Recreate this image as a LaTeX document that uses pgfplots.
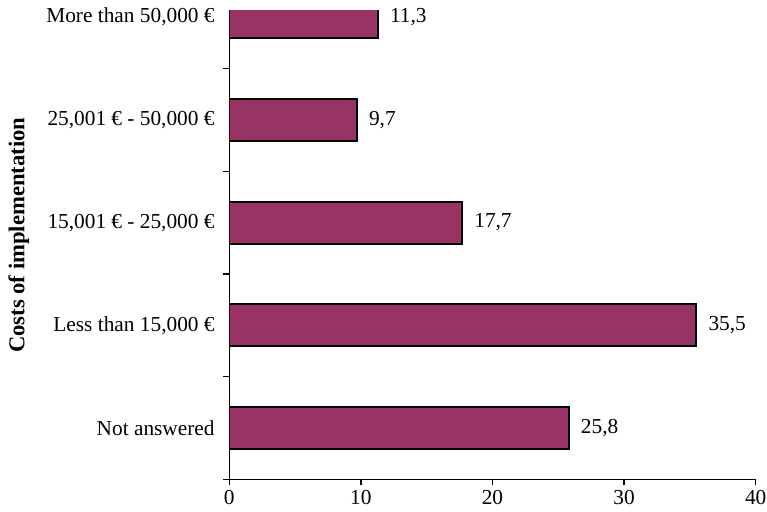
\documentclass[border=0pt]{standalone}
\usepackage{fontspec}
\setmainfont{Liberation Serif}
\usepackage{pgfplots}
\pgfplotsset{compat=1.18}
\definecolor{barfill}{HTML}{993366}
\begin{document}
\begin{tikzpicture}
\begin{axis}[
  at={(0,0)}, anchor=south west,
  scale only axis,
  width=394.8pt, height=352pt,
  xbar,
  bar width=0.41,
  xmin=0, xmax=40,
  ymin=-0.5, ymax=4.07,
  axis lines*=left,
  axis line style={line width=0.9pt},
  xtick={0,10,20,30,40},
  ytick={-0.5,0.5,1.5,2.5,3.5},
  yticklabels={},
  extra y ticks={0,1,2,3,4},
  extra y tick labels={{Not answered},{Less than 15,000 €},{15,001 € - 25,000 €},{25,001 € - 50,000 €},{More than 50,000 €}},
  extra y tick style={tick style={draw=none}, yticklabel style={xshift=-3pt}},
  tick align=outside,
  major tick length=4.5pt,
  tick style={black, line width=0.9pt},
  /pgf/number format/assume math mode=true,
  ticklabel style={font=\fontsize{16}{19}\selectfont},
  ylabel={Costs of implementation},
  ylabel style={at={(axis description cs:-0.40,0.52)}, anchor=center, font=\fontsize{17}{20}\selectfont\bfseries},
  nodes near coords,
  nodes near coords style={font=\fontsize{16}{19}\selectfont, anchor=west, xshift=5pt,
    /pgf/number format/.cd, fixed, fixed zerofill, precision=1, use comma, assume math mode=true},
  clip=true,
]
\addplot[fill=barfill, draw=black, line width=1.5pt] coordinates {
  (25.8,0) (35.5,1) (17.7,2) (9.7,3) (11.3,4)
};
\end{axis}
\pgfresetboundingbox
\path (-172pt,-23.8pt) rectangle (403.3pt,359.5pt);
\end{tikzpicture}
\end{document}
